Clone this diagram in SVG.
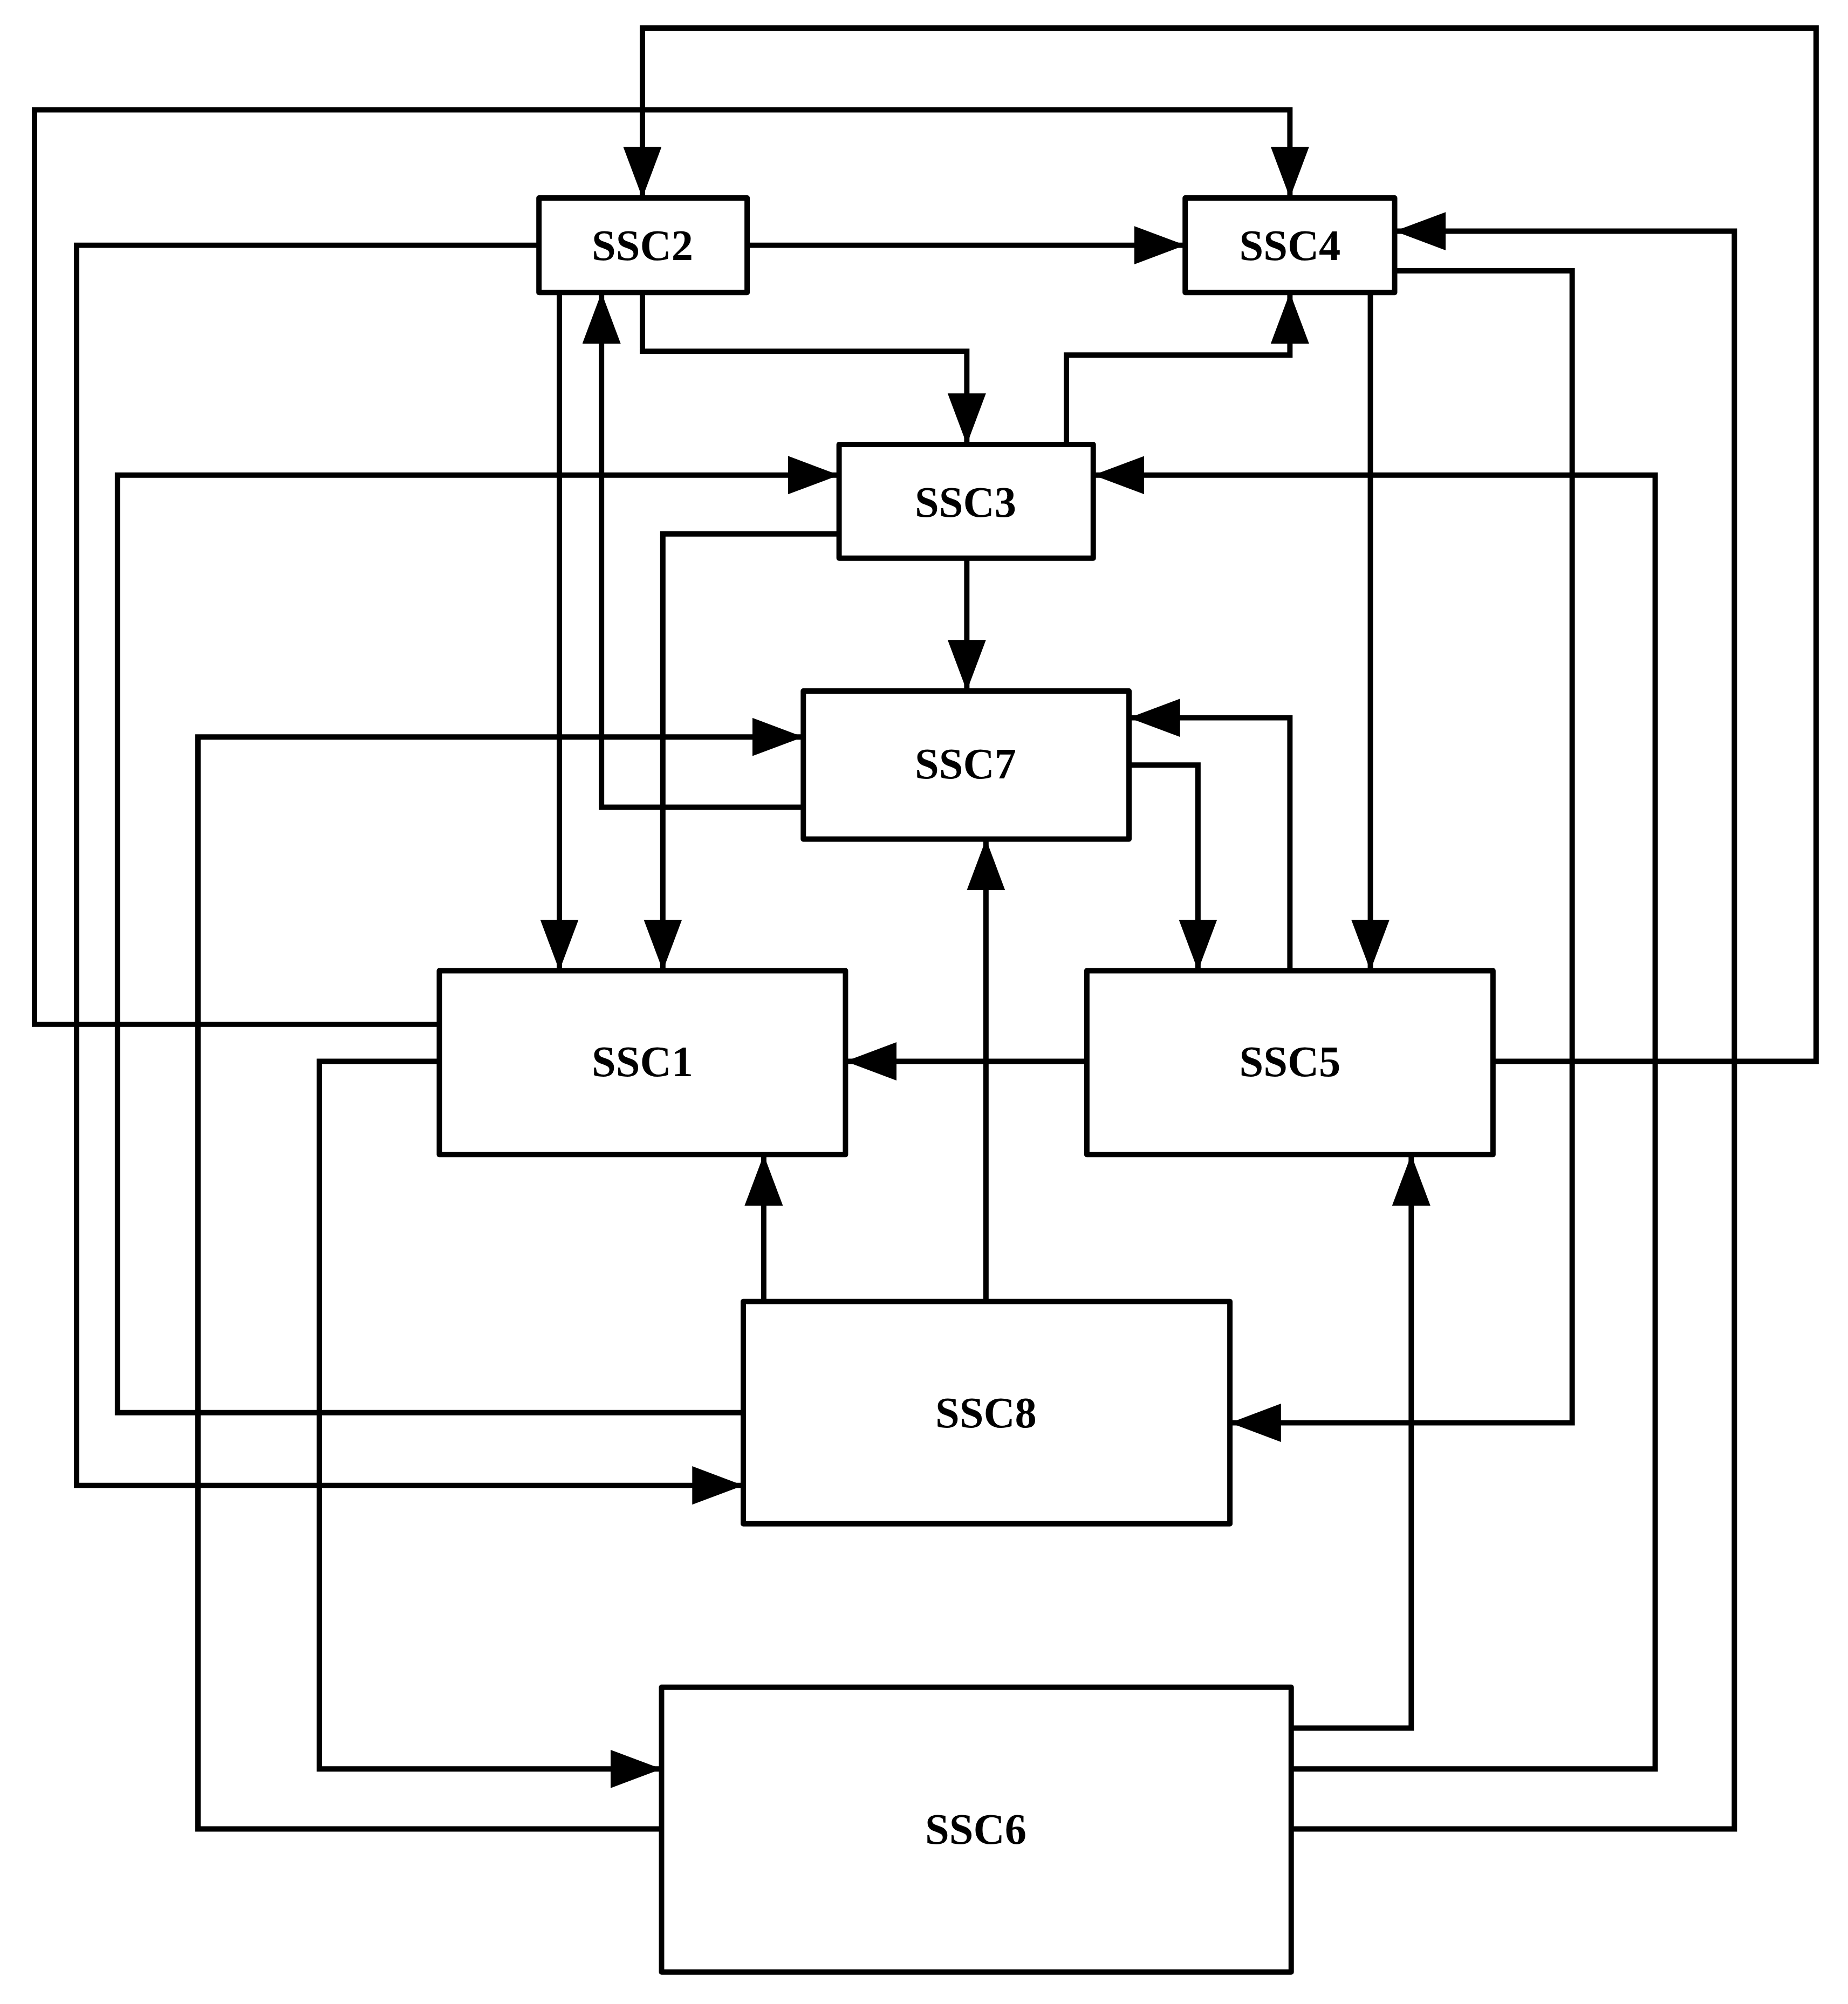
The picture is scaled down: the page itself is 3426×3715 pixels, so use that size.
<svg xmlns="http://www.w3.org/2000/svg" width="3426" height="3715" viewBox="0 0 3426 3715">
<defs>
<style>
.b{fill:#fff;stroke:#000;stroke-width:4.2;stroke-linejoin:round}
.t{font-family:"Liberation Serif",serif;font-weight:bold;font-size:34px;text-anchor:middle;dominant-baseline:central}
.c path{fill:none;stroke:#000;stroke-width:4.2;stroke-linejoin:miter}
</style>
<marker id="a" markerUnits="userSpaceOnUse" markerWidth="44" markerHeight="32" refX="40" refY="15" orient="auto"><path d="M0,0 L40,15 L0,30 Z" fill="#000"/></marker>
</defs>
<rect width="3426" height="3715" fill="#fff"/>
<g transform="scale(2.3677)">
<g class="c">
<path marker-end="url(#a)" d="M1169,831 H1422 V22 H503 V155"/>
<path marker-end="url(#a)" d="M344,802 H27 V86 H1010 V155"/>
<path marker-end="url(#a)" d="M585,192 H928"/>
<path marker-end="url(#a)" d="M422,192 H60 V1163 H582"/>
<path marker-end="url(#a)" d="M503,229 V275 H757 V348"/>
<path marker-end="url(#a)" d="M835,348 V278 H1010 V229"/>
<path marker-end="url(#a)" d="M438,229 V760"/>
<path marker-end="url(#a)" d="M629,632 H471 V229"/>
<path marker-end="url(#a)" d="M657,418 H519 V760"/>
<path marker-end="url(#a)" d="M582,1106 H92 V372 H657"/>
<path marker-end="url(#a)" d="M1011,1385 H1296 V372 H856"/>
<path marker-end="url(#a)" d="M757,437 V541"/>
<path marker-end="url(#a)" d="M518,1432 H155 V577 H629"/>
<path marker-end="url(#a)" d="M1010,760 V562 H884"/>
<path marker-end="url(#a)" d="M884,599 H938 V760"/>
<path marker-end="url(#a)" d="M772,1019 V657"/>
<path marker-end="url(#a)" d="M1073,229 V760"/>
<path marker-end="url(#a)" d="M1092,212 H1231 V1114 H963"/>
<path marker-end="url(#a)" d="M1011,1432 H1358 V181 H1092"/>
<path marker-end="url(#a)" d="M851,831 H662"/>
<path marker-end="url(#a)" d="M598,1019 V904"/>
<path marker-end="url(#a)" d="M1011,1353 H1105 V904"/>
<path marker-end="url(#a)" d="M344,831 H250 V1385 H518"/>
</g>
<g id="ssc2"><rect class="b" x="422" y="155" width="163" height="74"/><text class="t" x="503" y="192">SSC2</text></g>
<g id="ssc4"><rect class="b" x="928" y="155" width="164" height="74"/><text class="t" x="1010" y="192">SSC4</text></g>
<g id="ssc3"><rect class="b" x="657" y="348" width="199" height="89"/><text class="t" x="756" y="393">SSC3</text></g>
<g id="ssc7"><rect class="b" x="629" y="541" width="255" height="116"/><text class="t" x="756" y="598">SSC7</text></g>
<g id="ssc1"><rect class="b" x="344" y="760" width="318" height="144"/><text class="t" x="503" y="831">SSC1</text></g>
<g id="ssc5"><rect class="b" x="851" y="760" width="318" height="144"/><text class="t" x="1010" y="831">SSC5</text></g>
<g id="ssc8"><rect class="b" x="582" y="1019" width="381" height="174"/><text class="t" x="772" y="1106">SSC8</text></g>
<g id="ssc6"><rect class="b" x="518" y="1321" width="493" height="223"/><text class="t" x="764" y="1432">SSC6</text></g>
</g>
</svg>
